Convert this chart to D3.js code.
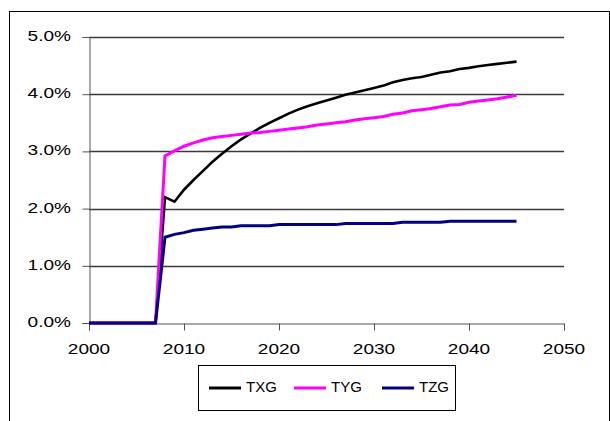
<!DOCTYPE html>
<html>
<head>
<meta charset="utf-8">
<script src="https://cdn.jsdelivr.net/npm/d3@7"></script>
<style>
  body { margin: 0; background: #fff; }
  text { font-family: "Liberation Sans", Arial, sans-serif; fill: #000; }
</style>
</head>
<body>
<div id="chart"></div>
<script>
let years = [2000, 2001, 2002, 2003, 2004, 2005, 2006, 2007, 2008, 2009,
  2010, 2011, 2012, 2013, 2014, 2015, 2016, 2017, 2018, 2019,
  2020, 2021, 2022, 2023, 2024, 2025, 2026, 2027, 2028, 2029,
  2030, 2031, 2032, 2033, 2034, 2035, 2036, 2037, 2038, 2039,
  2040, 2041, 2042, 2043, 2044, 2045]

let txg = [0, 0, 0, 0, 0, 0, 0, 0, 2.20, 2.12,
  2.33, 2.50, 2.66, 2.82, 2.96, 3.09, 3.21, 3.31, 3.41, 3.50,
  3.58, 3.66, 3.73, 3.79, 3.84, 3.89, 3.94, 3.99, 4.03, 4.07,
  4.11, 4.15, 4.21, 4.25, 4.28, 4.30, 4.34, 4.38, 4.40, 4.44,
  4.46, 4.49, 4.51, 4.53, 4.55, 4.57]

let tyg = [0, 0, 0, 0, 0, 0, 0, 0, 2.92, 3.01,
  3.09, 3.15, 3.20, 3.24, 3.26, 3.28, 3.30, 3.32, 3.33, 3.35,
  3.37, 3.39, 3.41, 3.43, 3.46, 3.48, 3.50, 3.52, 3.55, 3.57,
  3.59, 3.61, 3.65, 3.67, 3.71, 3.73, 3.75, 3.78, 3.81, 3.82,
  3.86, 3.88, 3.90, 3.92, 3.95, 3.98]

let tzg = [0, 0, 0, 0, 0, 0, 0, 0, 1.50, 1.55,
  1.58, 1.62, 1.64, 1.66, 1.68, 1.68, 1.70, 1.70, 1.70, 1.70,
  1.72, 1.72, 1.72, 1.72, 1.72, 1.72, 1.72, 1.74, 1.74, 1.74,
  1.74, 1.74, 1.74, 1.76, 1.76, 1.76, 1.76, 1.76, 1.78, 1.78,
  1.78, 1.78, 1.78, 1.78, 1.78, 1.78]

let seriesNames = ['TXG', 'TYG', 'TZG']
let seriesColors = ['#000000', '#ff00ff', '#000080']
let seriesValues = [txg, tyg, tzg]

let xTicks = [2000, 2010, 2020, 2030, 2040, 2050]
let yTicks = [0, 1, 2, 3, 4, 5]

let svg = d3.select('#chart')
  .append('svg')
    .attr('width', 610)
    .attr('height', 421)

// outer frame
svg.append('rect')
  .attr('x', 9.5)
  .attr('y', 11.5)
  .attr('width', 600)
  .attr('height', 430)
  .attr('fill', 'none')
  .attr('stroke', '#000')
  .attr('stroke-width', 1)

let x = d3.scaleLinear().domain([2000, 2050]).range([89, 564])
let y = d3.scaleLinear().domain([0, 5]).range([323, 37])

// gridlines
svg.selectAll('.grid')
  .data(yTicks.filter(d => d > 0))
  .enter()
  .append('line')
    .attr('x1', x(2000))
    .attr('x2', x(2050))
    .attr('y1', d => Math.round(y(d)) + 0.5)
    .attr('y2', d => Math.round(y(d)) + 0.5)
    .attr('stroke', '#3a3a3a')
    .attr('stroke-width', 1.3)

// y axis
let yAxis = svg.append('g')
  .attr('transform', `translate(${x(2000) + 0.5},0)`)
  .call(d3.axisLeft(y).tickValues(yTicks).tickSize(7).tickFormat(''))
yAxis.select('.domain').attr('stroke', '#555')
yAxis.selectAll('.tick line').attr('stroke', '#555')

svg.selectAll('.ylab')
  .data(yTicks)
  .enter()
  .append('text')
    .attr('transform', d => `translate(71,${y(d)}) scale(1.27,1)`)
    .attr('text-anchor', 'end')
    .attr('dominant-baseline', 'middle')
    .attr('font-size', 15)
    .text(d => d.toFixed(1) + '%')

// x axis
let xAxis = svg.append('g')
  .attr('transform', `translate(0,${y(0) + 0.5})`)
  .call(d3.axisBottom(x).tickValues(xTicks).tickSize(7).tickFormat(''))
xAxis.select('.domain').attr('stroke', '#555')
xAxis.selectAll('.tick line').attr('stroke', '#555')

svg.selectAll('.xlab')
  .data(xTicks)
  .enter()
  .append('text')
    .attr('transform', d => `translate(${x(d)},354) scale(1.27,1)`)
    .attr('text-anchor', 'middle')
    .attr('font-size', 15)
    .text(d => d)

// lines
let line = d3.line()
  .x((d, i) => x(years[i]))
  .y(d => y(d))

svg.selectAll('.series')
  .data(seriesValues)
  .enter()
  .append('path')
    .attr('d', d => line(d))
    .attr('fill', 'none')
    .attr('stroke', (d, i) => seriesColors[i])
    .attr('stroke-width', (d, i) => i === 0 ? 2.6 : 3)
    .attr('stroke-linejoin', 'miter')

// legend
let legend = svg.append('g')

legend.append('rect')
  .attr('x', 198.5)
  .attr('y', 365.5)
  .attr('width', 257)
  .attr('height', 45)
  .attr('fill', '#fff')
  .attr('stroke', '#000')

let legendX = [209, 294, 382]

seriesNames.forEach((name, i) => {
  legend.append('line')
    .attr('x1', legendX[i])
    .attr('x2', legendX[i] + 32)
    .attr('y1', 388)
    .attr('y2', 388)
    .attr('stroke', seriesColors[i])
    .attr('stroke-width', 3)
  legend.append('text')
    .attr('x', legendX[i] + 37)
    .attr('y', 388)
    .attr('dominant-baseline', 'middle')
    .attr('font-size', 15)
    .text(name)
})
</script>
</body>
</html>
